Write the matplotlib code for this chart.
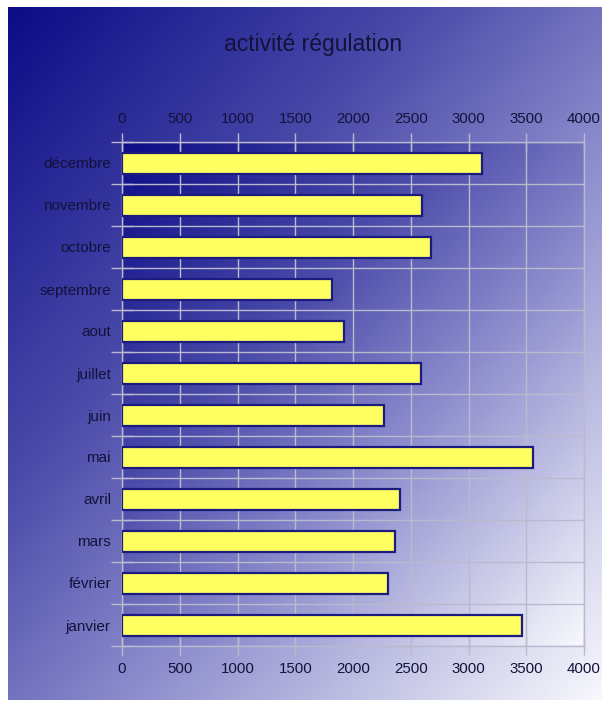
import numpy as np
import matplotlib
matplotlib.use("Agg")
import matplotlib.pyplot as plt
from matplotlib.colors import LinearSegmentedColormap

# ---- data ----
months = ["janvier", "février", "mars", "avril", "mai", "juin",
          "juillet", "aout", "septembre", "octobre", "novembre", "décembre"]
values = [3465, 2305, 2360, 2407, 3560, 2270, 2587, 1924, 1818, 2675, 2597, 3117]
xticks = [0, 500, 1000, 1500, 2000, 2500, 3000, 3500, 4000]
title = "activité régulation"

plt.rcParams['font.family'] = ['Liberation Sans', 'DejaVu Sans']

W, H = 602, 704
fig = plt.figure(figsize=(W / 100, H / 100), dpi=100, facecolor='white')

ramp = LinearSegmentedColormap.from_list(
    "ramp", [(0.0, (12/255, 12/255, 135/255)),
             (0.35, (75/255, 75/255, 170/255)),
             (0.6, (140/255, 140/255, 205/255)),
             (1.0, (248/255, 248/255, 253/255))])

gx, gy = np.meshgrid(np.linspace(0, 1, 300), np.linspace(0, 1, 300))
grad = (gx + gy) / 2  # row 0 = top

# figure background gradient (with thin white margins)
bg = fig.add_axes([8 / W, 4 / H, 1 - 8 / W, 1 - 11 / H], zorder=-10)
bg.imshow(grad, cmap=ramp, aspect='auto', extent=[0, 1, 1, 0],
          interpolation='bicubic')
bg.set_axis_off()

text_c = '#12123a'
fig.text(313 / W, 1 - 45 / H, title, ha='center', va='center',
         fontsize=16.5, color=text_c)

left, right, top, bottom = 122, 584, 142, 646
ax = fig.add_axes([left / W, 1 - bottom / H, (right - left) / W, (bottom - top) / H])
ax.set_facecolor('none')

# plot-area gradient (dark at top-left, light at bottom-right)
ax.imshow(grad, cmap=ramp, aspect='auto', extent=[0, 1, 0, 1], origin='upper',
          transform=ax.transAxes, zorder=0, interpolation='bicubic')

y = np.arange(len(months))
ax.barh(y, values, height=0.5, color='#ffff62', edgecolor='#1c1c80',
        linewidth=1.6, zorder=3)

ax.set_xlim(0, 4000)
ax.set_ylim(-0.5, len(months) - 0.5)

grid_c = '#babace'
ax.set_xticks(xticks)
ax.set_xticklabels([str(t) for t in xticks])
ax.set_yticks(y)
ax.set_yticklabels(months)
ax.set_yticks(np.arange(-0.5, len(months)), minor=True)

ax.tick_params(axis='x', which='major', top=True, bottom=True,
               labeltop=True, labelbottom=True, direction='inout',
               length=13, width=1, color=grid_c, labelsize=10.8,
               labelcolor=text_c, pad=5)
ax.tick_params(axis='y', which='major', length=0, labelsize=11,
               labelcolor=text_c, pad=8)
ax.tick_params(axis='y', which='minor', direction='inout', length=16,
               width=1, color=grid_c, left=True)

ax.grid(True, axis='x', which='major', color=grid_c, linewidth=1, zorder=1)
ax.grid(True, axis='y', which='minor', color=grid_c, linewidth=1, zorder=1)
ax.set_axisbelow(True)
for s in ax.spines.values():
    s.set_color(grid_c)
    s.set_linewidth(1)

fig.savefig("out.png", dpi=100, facecolor='white')
